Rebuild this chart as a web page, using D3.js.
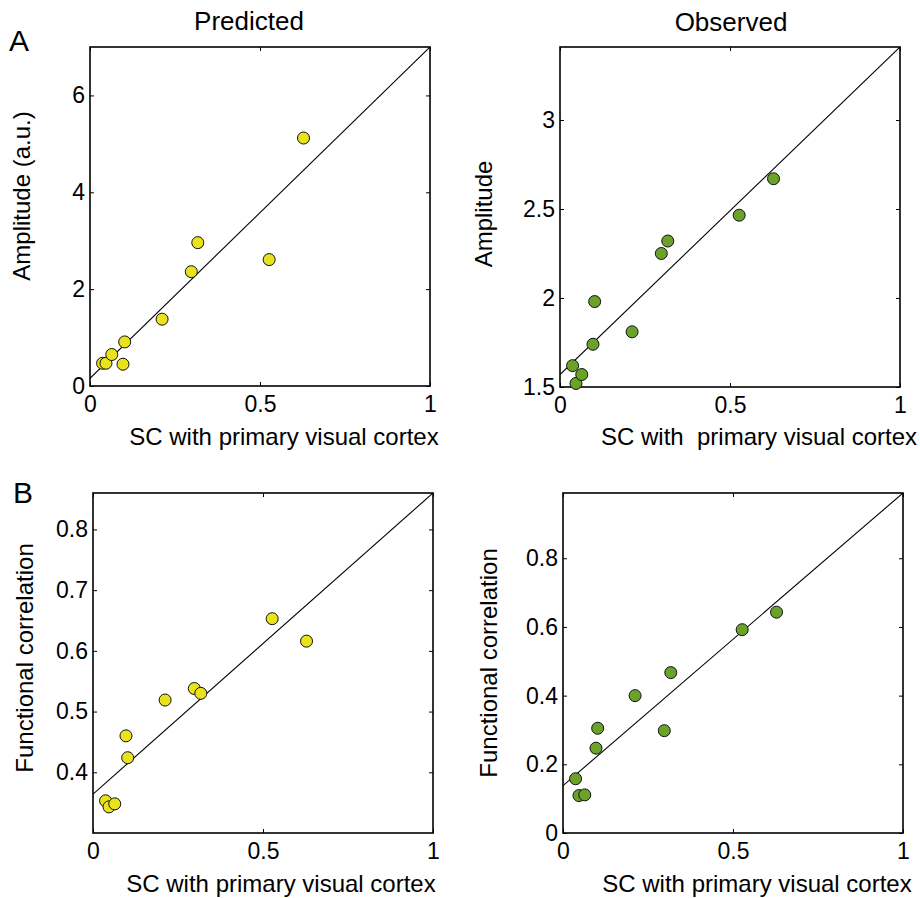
<!DOCTYPE html>
<html>
<head>
<meta charset="utf-8">
<script src="https://cdn.jsdelivr.net/npm/d3@7"></script>
<style>
	body { margin: 0; background: #fff; }
	svg { display: block; font-family: 'Liberation Sans', Arial, Helvetica, sans-serif; }
	.tick text { font-size: 23px; fill: #000; }
	.tick line { stroke: #000; stroke-width: 1; }
</style>
</head>
<body>
<div id="figure"></div>
<script>
const width = 920;
const height = 898;

// DATA ================================================================
// structural connectivity with primary visual cortex (shared x values)
const sc = [0.037, 0.047, 0.064, 0.097, 0.102, 0.212, 0.298, 0.317, 0.527, 0.628];

const predictedAmplitude = [0.47, 0.47, 0.65, 0.45, 0.91, 1.38, 2.36, 2.96, 2.61, 5.12];
const observedAmplitude = [1.62, 1.52, 1.57, 1.74, 1.98, 1.81, 2.25, 2.32, 2.465, 2.67];
const predictedFC = [0.353, 0.343, 0.348, 0.46, 0.424, 0.519, 0.538, 0.53, 0.653, 0.616];
const observedFC = [0.158, 0.109, 0.111, 0.247, 0.305, 0.4, 0.298, 0.467, 0.592, 0.643];

// regression line, value at sc = 0 and sc = 1
const fitPredictedAmplitude = [0.16, 7.0];
const fitObservedAmplitude = [1.57, 3.41];
const fitPredictedFC = [0.364, 0.86];
const fitObservedFC = [0.138, 0.99];

const xTicks = [0, 0.5, 1];
const yTicksPredictedAmplitude = [0, 2, 4, 6];
const yTicksObservedAmplitude = [1.5, 2, 2.5, 3];
const yTicksPredictedFC = [0.4, 0.5, 0.6, 0.7, 0.8];
const yTicksObservedFC = [0, 0.2, 0.4, 0.6, 0.8];
// =================================================================

// Panels ================================================================
const panels = [
	{
		box: { left: 90, top: 47, right: 430, bottom: 386 },
		yDomain: [0, 7],
		yTicks: yTicksPredictedAmplitude,
		values: predictedAmplitude,
		fit: fitPredictedAmplitude,
		color: '#e8e31c',
		yLabel: 'Amplitude (a.u.)',
		yLabelPos: [30, 196],
		xLabel: 'SC with primary visual cortex',
		xLabelPos: [284, 445],
	},
	{
		box: { left: 560, top: 47, right: 900, bottom: 387 },
		yDomain: [1.5, 3.41],
		yTicks: yTicksObservedAmplitude,
		values: observedAmplitude,
		fit: fitObservedAmplitude,
		color: '#6aa22a',
		yLabel: 'Amplitude',
		yLabelPos: [492, 214],
		xLabel: 'SC with\u00a0 primary visual cortex',
		xLabelPos: [759, 445],
	},
	{
		box: { left: 93, top: 493, right: 433, bottom: 833 },
		yDomain: [0.3, 0.86],
		yTicks: yTicksPredictedFC,
		values: predictedFC,
		fit: fitPredictedFC,
		color: '#e8e31c',
		yLabel: 'Functional correlation',
		yLabelPos: [33, 658],
		xLabel: 'SC with primary visual cortex',
		xLabelPos: [281, 892],
	},
	{
		box: { left: 563, top: 493, right: 903, bottom: 833 },
		yDomain: [0, 0.99],
		yTicks: yTicksObservedFC,
		values: observedFC,
		fit: fitObservedFC,
		color: '#6aa22a',
		yLabel: 'Functional correlation',
		yLabelPos: [497, 663],
		xLabel: 'SC with primary visual cortex',
		xLabelPos: [757, 892],
	},
];

const svg = d3.select('#figure').append('svg').attr('width', width).attr('height', height);

// Function to draw one scatter panel with its fit line
function drawPanel(p, i) {
	const b = p.box;
	const xScale = d3.scaleLinear().domain([0, 1]).range([b.left, b.right]);
	const yScale = d3.scaleLinear().domain(p.yDomain).range([b.bottom, b.top]);
	const g = svg.append('g');

	// clip so the fit line stays inside the box
	svg.append('clipPath')
		.attr('id', 'clip' + i)
		.append('rect')
		.attr('x', b.left)
		.attr('y', b.top)
		.attr('width', b.right - b.left)
		.attr('height', b.bottom - b.top);

	// axes with inward ticks on all four sides
	const fmt = (d) => String(d);
	g.append('g')
		.attr('transform', `translate(0, ${b.bottom})`)
		.call(d3.axisBottom(xScale).tickValues(xTicks).tickFormat(fmt).tickSizeInner(-4).tickSizeOuter(0).tickPadding(10));
	g.append('g')
		.attr('transform', `translate(0, ${b.top})`)
		.call(d3.axisTop(xScale).tickValues(xTicks).tickFormat('').tickSizeInner(-4).tickSizeOuter(0));
	g.append('g')
		.attr('transform', `translate(${b.left}, 0)`)
		.call(d3.axisLeft(yScale).tickValues(p.yTicks).tickFormat(fmt).tickSizeInner(-4).tickSizeOuter(0).tickPadding(5));
	g.append('g')
		.attr('transform', `translate(${b.right}, 0)`)
		.call(d3.axisRight(yScale).tickValues(p.yTicks).tickFormat('').tickSizeInner(-4).tickSizeOuter(0));
	g.selectAll('.domain').remove();

	// fit line
	g.append('line')
		.attr('clip-path', `url(#clip${i})`)
		.attr('x1', xScale(0))
		.attr('y1', yScale(p.fit[0]))
		.attr('x2', xScale(1))
		.attr('y2', yScale(p.fit[1]))
		.attr('stroke', '#000')
		.attr('stroke-width', 1.1);

	// box
	g.append('rect')
		.attr('x', b.left)
		.attr('y', b.top)
		.attr('width', b.right - b.left)
		.attr('height', b.bottom - b.top)
		.attr('fill', 'none')
		.attr('stroke', '#000')
		.attr('stroke-width', 1.6);

	// points
	g.selectAll('.dot')
		.data(sc.map((x, k) => ({ x: x, y: p.values[k] })))
		.enter()
		.append('circle')
		.attr('class', 'dot')
		.attr('cx', (d) => xScale(d.x))
		.attr('cy', (d) => yScale(d.y))
		.attr('r', 6)
		.attr('fill', p.color)
		.attr('stroke', '#111')
		.attr('stroke-width', 1);

	// axis labels
	g.append('text')
		.attr('x', p.xLabelPos[0])
		.attr('y', p.xLabelPos[1])
		.attr('text-anchor', 'middle')
		.style('font-size', '24px')
		.text(p.xLabel);

	g.append('text')
		.attr('transform', `translate(${p.yLabelPos[0]}, ${p.yLabelPos[1]}) rotate(-90)`)
		.attr('text-anchor', 'middle')
		.style('font-size', '24px')
		.text(p.yLabel);
}

panels.forEach(drawPanel);
// =================================================================

// Titles and panel letters ================================================================
svg.append('text').attr('x', 249).attr('y', 30).attr('text-anchor', 'middle').style('font-size', '26px').text('Predicted');
svg.append('text').attr('x', 731).attr('y', 31).attr('text-anchor', 'middle').style('font-size', '26px').text('Observed');
svg.append('text').attr('x', 9).attr('y', 51).style('font-size', '30px').text('A');
svg.append('text').attr('x', 13).attr('y', 503).style('font-size', '30px').text('B');
// =================================================================
</script>
</body>
</html>
